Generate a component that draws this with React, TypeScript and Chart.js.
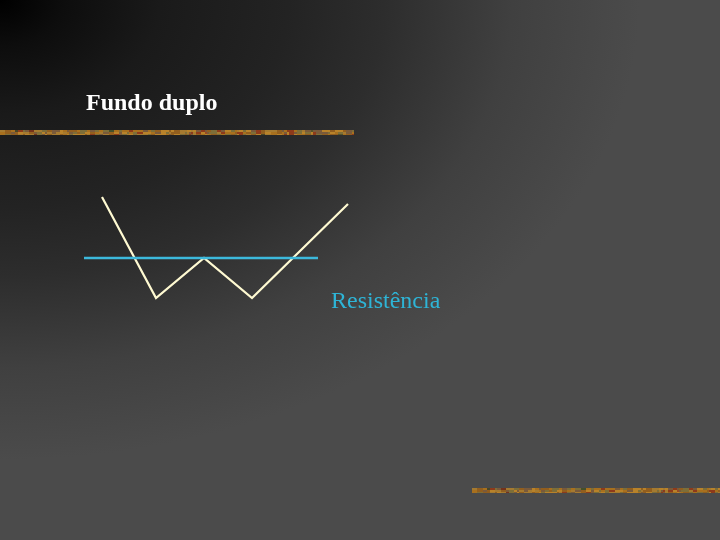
import React, { useEffect, useRef } from "react";
import { Chart, registerables } from "chart.js";

Chart.register(...registerables);

// Pattern (price path) of the double bottom: time units and price levels
const patternTimes = [10.2, 15.6, 20.4, 25.2, 34.8];
const patternPrices = [34.3, 24.2, 28.2, 24.2, 33.6];
// Resistance level
const resistanceTimes = [8.4, 31.8];
const resistancePrices = [28.2, 28.2];

const titleText = "Fundo duplo";
const resistanceLabel = "Resistência";

const stripPalette = ["#a8701e", "#6a4418", "#b8822a", "#56552a", "#8e3a1a", "#5e2a14", "#7e6e38", "#4a4626", "#a57a30", "#74321a", "#925e1e", "#44502a", "#7a5a3a", "#9a4a22"];

function drawStrip(ctx: CanvasRenderingContext2D, x0: number, x1: number, y: number, h: number) {
  let seed = 11;
  let x = x0;
  while (x < x1) {
    seed = (seed * 1103515245 + 12345) & 0x7fffffff;
    const w = 2 + (seed >> 8) % 5;
    for (let dy = 0; dy < h; dy += 2) {
      seed = (seed * 1103515245 + 12345) & 0x7fffffff;
      ctx.fillStyle = stripPalette[(seed >> 4) % stripPalette.length];
      ctx.fillRect(x, y + dy, Math.min(w, x1 - x), Math.min(2, h - dy));
    }
    x += w;
  }
}

const bgPlugin = {
  id: "slideBg",
  beforeDraw(chart: any) {
    const ctx = chart.ctx as CanvasRenderingContext2D;
    const w = chart.width, h = chart.height;
    ctx.save();
    ctx.scale(1, 460 / 640);
    const g = ctx.createRadialGradient(0, 0, 0, 0, 0, 640);
    g.addColorStop(0, "#000000");
    g.addColorStop(0.1, "#0d0d0d");
    g.addColorStop(0.25, "#1a1a1a");
    g.addColorStop(0.45, "#232323");
    g.addColorStop(0.6, "#2d2d2d");
    g.addColorStop(0.8, "#404040");
    g.addColorStop(1, "#4b4b4b");
    ctx.fillStyle = g;
    ctx.fillRect(0, 0, w, h * 640 / 460);
    ctx.restore();
    ctx.save();
    drawStrip(ctx, 0, 354, 130, 5);
    drawStrip(ctx, 472, 720, 488, 5);
    ctx.restore();
  },
  afterDraw(chart: any) {
    const ctx = chart.ctx as CanvasRenderingContext2D;
    ctx.save();
    ctx.textBaseline = "alphabetic";
    ctx.fillStyle = "#ffffff";
    ctx.font = "bold 24px 'Liberation Serif', 'Times New Roman', serif";
    ctx.fillText(titleText, 86, 110);
    ctx.fillStyle = "#2eb4d6";
    ctx.font = "24px 'Liberation Serif', 'Times New Roman', serif";
    ctx.fillText(resistanceLabel, 331, 308);
    ctx.restore();
  },
};

export default function App() {
  const ref = useRef<HTMLCanvasElement>(null);
  useEffect(() => {
    document.body.style.margin = "0";
    const chart = new Chart(ref.current!, {
      type: "line",
      data: {
        datasets: [
          {
            data: resistanceTimes.map((t, i) => ({ x: t, y: resistancePrices[i] })),
            borderColor: "#3cb9dc",
            borderWidth: 2.5,
            pointRadius: 0,
            tension: 0,
          },
          {
            data: patternTimes.map((t, i) => ({ x: t, y: patternPrices[i] })),
            borderColor: "#fffad2",
            borderWidth: 2.2,
            pointRadius: 0,
            tension: 0,
          },
        ],
      },
      options: {
        responsive: false,
        animation: false,
        layout: { padding: 0 },
        plugins: { legend: { display: false }, tooltip: { enabled: false }, title: { display: false } },
        scales: {
          x: { type: "linear", min: 0, max: 72, display: false },
          y: { type: "linear", min: 0, max: 54, display: false },
        },
      },
      plugins: [bgPlugin],
    });
    return () => chart.destroy();
  }, []);
  return (
    <div style={{ position: "absolute", left: 0, top: 0, width: 720, height: 540 }}>
      <canvas ref={ref} width={720} height={540} />
    </div>
  );
}
